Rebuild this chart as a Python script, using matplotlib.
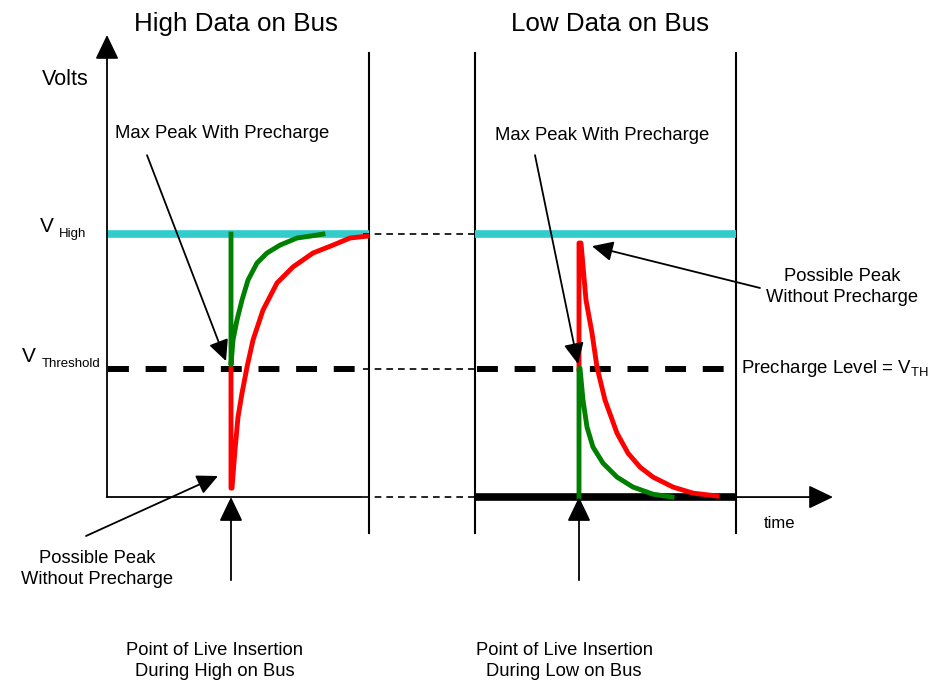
import matplotlib.pyplot as plt

plt.rcParams['font.family'] = ['Liberation Sans', 'DejaVu Sans']
plt.rcParams['mathtext.fontset'] = 'custom'
plt.rcParams['mathtext.rm'] = 'Liberation Sans'

# levels (volts, normalised) and times (arbitrary units)
v_high = 1.0
v_th = 0.487
v_low = 0.0
t_ins_high = 12.4
t_ins_low = 47.2
left_panel = (0.0, 26.2)
right_panel = (36.8, 62.9)

# high data on bus: insertion transients
green_hi_t = [12.4, 12.4, 12.6, 13.0, 13.5, 14.1, 15.0, 16.0, 17.3, 19.0, 20.3, 21.6]
green_hi_v = [1.0, 0.502, 0.597, 0.673, 0.749, 0.825, 0.890, 0.928, 0.958, 0.985, 0.992, 1.0]
red_hi_t = [12.4, 12.4, 12.5, 12.8, 13.1, 13.5, 14.0, 14.6, 15.6, 17.0, 18.6, 20.6, 22.6, 24.3, 26.0]
red_hi_v = [0.487, 0.034, 0.034, 0.179, 0.304, 0.395, 0.494, 0.597, 0.711, 0.814, 0.875,
            0.928, 0.958, 0.985, 0.992]

# low data on bus: insertion transients
red_lo_t = [47.2, 47.2, 47.4, 47.9, 48.5, 49.0, 49.8, 51.0, 52.1, 53.3, 54.6, 56.6, 58.6, 61.0]
red_lo_v = [0.487, 0.966, 0.966, 0.749, 0.624, 0.494, 0.369, 0.243, 0.167, 0.114, 0.076,
            0.038, 0.015, 0.004]
green_lo_t = [47.2, 47.2, 47.3, 47.6, 48.0, 48.6, 49.6, 51.0, 52.6, 54.6, 56.5]
green_lo_v = [0.0, 0.487, 0.490, 0.369, 0.266, 0.190, 0.129, 0.076, 0.038, 0.011, 0.0]

fig = plt.figure(figsize=(9.44, 6.83), dpi=100)
ax = fig.add_axes([0, 0, 1, 1])
ax.set_xlim(-10.7, 83.7)
ax.set_ylim(-0.707, 1.890)
ax.axis('off')

cyan = '#33CCCC'
head = '-|>,head_length=0.75,head_width=0.36'


def arrow(x0, y0, x1, y1, lw=1.3, scale=20):
    ax.annotate('', xy=(x1, y1), xytext=(x0, y0),
                arrowprops=dict(arrowstyle=head, color='black', lw=lw,
                                mutation_scale=scale, shrinkA=0, shrinkB=0))


# panels
for t in (left_panel[1], right_panel[0], right_panel[1]):
    ax.plot([t, t], [-0.137, 1.688], color='black', lw=1.5)

# V high lines
ax.plot(left_panel, [v_high, v_high], color=cyan, lw=5.5, solid_capstyle='butt')
ax.plot(right_panel, [v_high, v_high], color=cyan, lw=5.5, solid_capstyle='butt')

# threshold lines
ax.plot([0.1, 25.1], [v_th, v_th], color='black', lw=4.3, linestyle=(0, (3.5, 2.8)))
ax.plot([37.0, 62.1], [v_th, v_th], color='black', lw=4.3, linestyle=(0, (3.5, 2.8)))

# connectors between panels
for v in (v_high, v_th, v_low):
    ax.plot([25.6, 37.1], [v, v], color='black', lw=1.2, linestyle=(0, (4, 3)))

# axes
ax.plot([0, 25.5], [v_low, v_low], color='black', lw=1.3)
ax.plot(right_panel, [v_low, v_low], color='black', lw=5.5, solid_capstyle='butt')
arrow(0, 0, 0, 1.757)
arrow(right_panel[1], 0, 72.6, 0)

# transients
ax.plot(green_hi_t, green_hi_v, color='#008000', lw=3.5)
ax.plot(red_hi_t, red_hi_v, color='red', lw=3.5)
ax.plot(red_lo_t, red_lo_v, color='red', lw=3.5)
ax.plot(green_lo_t, green_lo_v, color='#008000', lw=3.5)

# insertion arrows
arrow(t_ins_high, -0.316, t_ins_high, 0)
arrow(t_ins_low, -0.316, t_ins_low, 0)

# annotation arrows
arrow(4.0, 1.300, 11.9, 0.517, scale=17)
arrow(42.8, 1.300, 47.1, 0.506, scale=17)
arrow(65.3, 0.795, 48.5, 0.954, scale=17)
arrow(-2.1, -0.148, 11.1, 0.080, scale=17)

# texts
ax.text(12.9, 1.798, 'High Data on Bus', fontsize=18.7, ha='center', va='center')
ax.text(50.3, 1.798, 'Low Data on Bus', fontsize=18.7, ha='center', va='center')
ax.text(-4.2, 1.589, 'Volts', fontsize=15.5, ha='center', va='center')
ax.text(11.5, 1.384, 'Max Peak With Precharge', fontsize=13.3, ha='center', va='center')
ax.text(49.5, 1.373, 'Max Peak With Precharge', fontsize=13.3, ha='center', va='center')
ax.text(73.5, 0.798, 'Possible Peak\nWithout Precharge', fontsize=13.2, ha='center',
        va='center', linespacing=1.3)
ax.text(-1.0, -0.274, 'Possible Peak\nWithout Precharge', fontsize=13.2, ha='center',
        va='center', linespacing=1.3)
ax.text(10.8, -0.624, 'Point of Live Insertion\nDuring High on Bus', fontsize=13.2,
        ha='center', va='center', linespacing=1.3)
ax.text(45.7, -0.624, 'Point of Live Insertion\nDuring Low on Bus', fontsize=13.2,
        ha='center', va='center', linespacing=1.3)
ax.text(67.3, -0.099, 'time', fontsize=12, ha='center', va='center')
ax.text(63.4, v_th, r'Precharge Level = V$_{\mathrm{TH}}$', fontsize=13.4, ha='left', va='center')
ax.text(-6.7, 1.008, 'V', fontsize=15, ha='left', va='baseline')
ax.text(-4.8, 0.989, 'High', fontsize=9.5, ha='left', va='baseline')
ax.text(-8.5, 0.513, 'V', fontsize=15, ha='left', va='baseline')
ax.text(-6.5, 0.494, 'Threshold', fontsize=9.5, ha='left', va='baseline')

fig.savefig('out.png', dpi=100)
